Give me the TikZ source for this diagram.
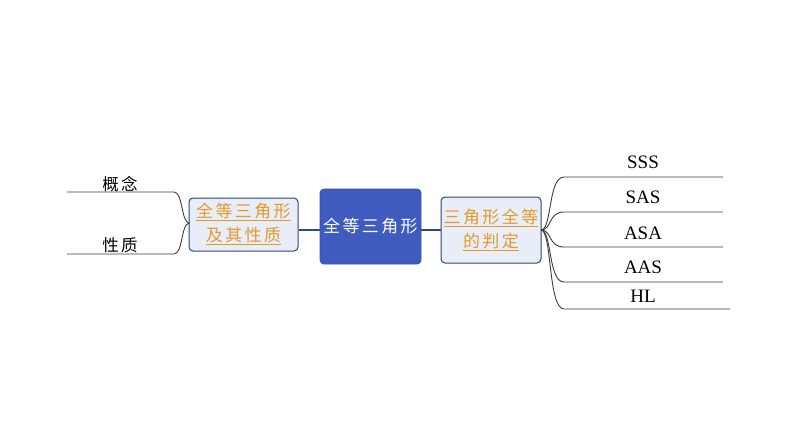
\documentclass[tikz,border=0pt]{standalone}
\usepackage{fontspec}
\setmainfont{Liberation Serif}
\newfontfamily\cjk[LetterSpace=14]{Noto Sans CJK SC}
\definecolor{cblue}{HTML}{3F5BBE}
\definecolor{cblueb}{HTML}{3550A8}
\definecolor{sfill}{HTML}{E9EDF7}
\definecolor{sborder}{HTML}{2C4471}
\definecolor{otext}{HTML}{E39A2C}
\definecolor{link}{HTML}{2E4A86}
\definecolor{branch}{HTML}{3C3C3C}
\newcommand\myul[1]{\setbox0\hbox{#1}\rlap{\color{otext}\rule[-3.5pt]{\wd0}{1.2pt}}\box0}
\begin{document}
\begin{tikzpicture}[x=1pt,y=-1pt,
  central/.style={draw=cblueb,fill=cblue,rounded corners=4pt,line width=0.8pt,minimum width=101pt,minimum height=75pt,inner sep=0pt,text=white,font=\cjk\fontsize{17}{20}\selectfont},
  side/.style={draw=sborder,fill=sfill,rounded corners=4pt,line width=1pt,inner sep=0pt,text=otext,align=center,font=\cjk\fontsize{17}{24}\selectfont},
  leaf/.style={font=\cjk\fontsize{16.5}{18}\selectfont,text=black,inner sep=0pt},
  latin/.style={font=\fontsize{19}{21}\selectfont,text=black,inner sep=0pt},
  link/.style={draw=link,line width=1.6pt},
  br/.style={draw=branch,line width=0.9pt}]
\useasboundingbox (0,0) rectangle (794,447);
\node[central] (c) at (370.5,226.5) {全等三角形};
\node[side,minimum width=109pt,minimum height=53pt] (l) at (243.5,224.5) {\myul{全等三角形}\\\myul{及其性质}};
\node[side,minimum width=100pt,minimum height=66pt] (r) at (491,230) {\myul{三角形全等}\\\myul{的判定}};
\draw[link] (c.west |- 0,230) -- (l.east |- 0,230);
\draw[link] (c.east |- 0,230) -- (r.west |- 0,230);
% left branches
\coordinate (lroot) at (189,223);
\coordinate (l1a) at (174,192); \coordinate (l1b) at (67,192);
\coordinate (l2a) at (174,254); \coordinate (l2b) at (67,254);
\draw[br] (lroot) .. controls (181,222) and (183,192) .. (l1a) -- (l1b);
\draw[br] (lroot) .. controls (181,224) and (183,254) .. (l2a) -- (l2b);
\node[leaf] (n1) at (120,184) {概念};
\node[leaf] (n2) at (120,245) {性质};
% right branches
\coordinate (rroot) at (541,230);
\foreach \y/\e/\n in {177/723/a,212/723/b,247/723/c,282/723/d,309/730/e}{
  \coordinate (r\n a) at (564,\y);
  \coordinate (r\n b) at (\e,\y);
  \draw[br] (rroot) .. controls (552,230) and (548,\y) .. (r\n a) -- (r\n b);
}
\node[latin] (t1) at (643,162) {SSS};
\node[latin] (t2) at (643,197) {SAS};
\node[latin] (t3) at (643,233) {ASA};
\node[latin] (t4) at (643,267) {AAS};
\node[latin] (t5) at (643,296) {HL};
\end{tikzpicture}
\end{document}
